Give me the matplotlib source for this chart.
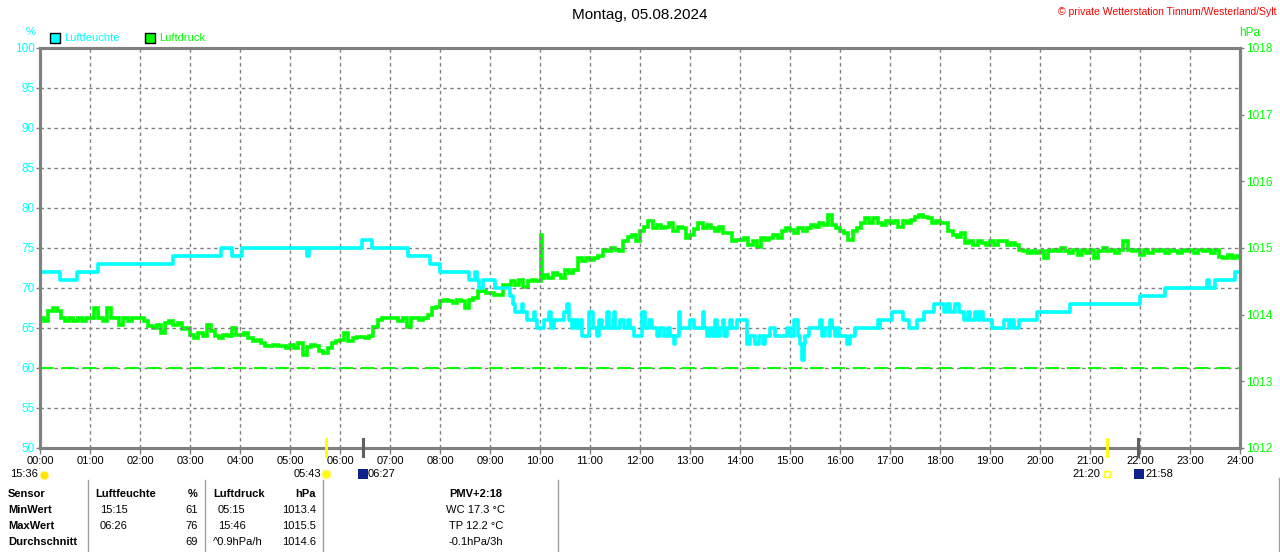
import matplotlib
matplotlib.use("Agg")
import matplotlib.pyplot as plt
import numpy as np
from matplotlib.lines import Line2D
from matplotlib.patches import Rectangle

plt.rcParams['font.family'] = ['Liberation Sans', 'DejaVu Sans']

W, H = 1280, 552
CYAN = '#00FFFF'
GREEN = '#00FF00'
GRAU = '#808080'

# Luftfeuchte: Stufen (Stunde, %)
feuchte_t = [0.00, 0.40, 0.73, 1.15, 2.65, 3.61, 3.83, 4.03, 5.33, 5.37, 6.43, 6.63,
             7.35, 7.80, 8.00, 8.57, 8.70, 8.73, 8.77, 8.87, 9.10, 9.40, 9.45, 9.50,
             9.64, 9.66, 9.73, 9.88, 9.90, 9.93, 10.07, 10.17, 10.22, 10.27, 10.47, 10.53,
             10.57, 10.63, 10.68, 10.73, 10.78, 10.83, 10.97, 11.05, 11.13, 11.17, 11.23, 11.33,
             11.37, 11.45, 11.47, 11.50, 11.60, 11.67, 11.75, 11.80, 11.87, 12.03, 12.10, 12.17,
             12.23, 12.33, 12.40, 12.47, 12.55, 12.60, 12.67, 12.70, 12.77, 12.80, 13.00, 13.07,
             13.25, 13.28, 13.33, 13.40, 13.45, 13.50, 13.53, 13.60, 13.65, 13.68, 13.73, 13.80,
             13.83, 13.93, 14.13, 14.20, 14.30, 14.37, 14.45, 14.50, 14.60, 14.70, 14.93, 15.00,
             15.07, 15.15, 15.20, 15.23, 15.27, 15.30, 15.37, 15.60, 15.63, 15.70, 15.77, 15.80,
             15.83, 15.90, 15.93, 15.97, 16.13, 16.20, 16.30, 16.75, 16.77, 16.80, 17.03, 17.25,
             17.37, 17.53, 17.67, 17.87, 18.07, 18.13, 18.20, 18.30, 18.37, 18.47, 18.55, 18.60,
             18.70, 18.75, 18.80, 18.85, 19.03, 19.28, 19.37, 19.42, 19.47, 19.57, 19.93, 20.60,
             22.00, 22.50, 23.33, 23.37, 23.50, 23.90, 24.00]
feuchte_pct = [72, 71, 72, 73, 74, 75, 74, 75, 74, 75, 76, 75,
               74, 73, 72, 71, 72, 71, 70, 71, 70, 69, 68, 67,
               68, 67, 66, 67, 66, 65, 66, 67, 65, 66, 67, 68,
               66, 65, 66, 65, 66, 64, 67, 65, 64, 66, 65, 67,
               65, 66, 67, 65, 66, 65, 66, 65, 64, 67, 65, 66,
               65, 64, 65, 64, 65, 64, 63, 64, 67, 65, 66, 65,
               67, 65, 64, 65, 64, 66, 64, 65, 66, 64, 65, 66,
               65, 66, 63, 64, 63, 64, 63, 64, 65, 64, 65, 64,
               66, 64, 63, 61, 63, 64, 65, 66, 64, 65, 64, 66,
               65, 64, 65, 64, 63, 64, 65, 66, 65, 66, 67, 66,
               65, 66, 67, 68, 67, 68, 67, 68, 67, 66, 67, 66,
               67, 66, 67, 66, 65, 66, 65, 66, 65, 66, 67, 68,
               69, 70, 71, 70, 71, 72, 72]

# Luftdruck alle 5 Minuten, eine Zeile je Stunde (hPa)
druck_hpa = [
    1013.95, 1013.9, 1014.05, 1014.1, 1014.05, 1013.95, 1013.9, 1013.95, 1013.9, 1013.95, 1013.9, 1013.95,
    1013.95, 1014.1, 1013.95, 1013.9, 1014.1, 1013.95, 1013.95, 1013.85, 1013.95, 1013.9, 1013.95, 1013.95,
    1013.95, 1013.9, 1013.83, 1013.8, 1013.85, 1013.72, 1013.88, 1013.9, 1013.85, 1013.88, 1013.78, 1013.8,
    1013.7, 1013.65, 1013.72, 1013.68, 1013.85, 1013.75, 1013.68, 1013.65, 1013.7, 1013.68, 1013.8, 1013.7,
    1013.7, 1013.72, 1013.65, 1013.6, 1013.62, 1013.58, 1013.53, 1013.53, 1013.55, 1013.53, 1013.53, 1013.5,
    1013.55, 1013.5, 1013.58, 1013.4, 1013.52, 1013.55, 1013.53, 1013.45, 1013.42, 1013.5, 1013.58, 1013.6,
    1013.62, 1013.72, 1013.6, 1013.65, 1013.67, 1013.67, 1013.65, 1013.68, 1013.82, 1013.92, 1013.95, 1013.95,
    1013.95, 1013.95, 1013.9, 1013.95, 1013.82, 1013.95, 1013.95, 1013.92, 1013.95, 1014.0, 1014.1, 1014.12,
    1014.2, 1014.22, 1014.2, 1014.18, 1014.22, 1014.2, 1014.1, 1014.22, 1014.25, 1014.35, 1014.35, 1014.32,
    1014.32, 1014.3, 1014.3, 1014.45, 1014.45, 1014.5, 1014.45, 1014.52, 1014.42, 1014.5, 1014.52, 1014.5,
    1014.5, 1014.6, 1014.55, 1014.62, 1014.6, 1014.55, 1014.67, 1014.62, 1014.67, 1014.85, 1014.8, 1014.85,
    1014.82, 1014.85, 1014.88, 1014.97, 1014.95, 1015.0, 1014.97, 1014.95, 1015.1, 1015.17, 1015.2, 1015.1,
    1015.25, 1015.32, 1015.4, 1015.3, 1015.35, 1015.3, 1015.32, 1015.38, 1015.25, 1015.32, 1015.3, 1015.15,
    1015.2, 1015.28, 1015.38, 1015.3, 1015.35, 1015.3, 1015.25, 1015.32, 1015.22, 1015.22, 1015.1, 1015.12,
    1015.12, 1015.15, 1015.05, 1015.1, 1015.02, 1015.15, 1015.12, 1015.15, 1015.2, 1015.15, 1015.25, 1015.3,
    1015.27, 1015.22, 1015.3, 1015.25, 1015.3, 1015.35, 1015.32, 1015.38, 1015.35, 1015.5, 1015.35, 1015.3,
    1015.25, 1015.22, 1015.12, 1015.25, 1015.3, 1015.38, 1015.45, 1015.38, 1015.45, 1015.38, 1015.35, 1015.4,
    1015.38, 1015.4, 1015.32, 1015.4, 1015.38, 1015.42, 1015.47, 1015.5, 1015.47, 1015.45, 1015.38, 1015.4,
    1015.37, 1015.38, 1015.25, 1015.2, 1015.17, 1015.22, 1015.07, 1015.1, 1015.05, 1015.1, 1015.07, 1015.05,
    1015.1, 1015.05, 1015.1, 1015.1, 1015.05, 1015.07, 1015.05, 1014.97, 1014.95, 1014.92, 1014.95, 1014.93,
    1014.95, 1014.85, 1014.95, 1014.97, 1014.95, 1015.0, 1014.95, 1014.92, 1014.97, 1014.9, 1014.97, 1014.92,
    1014.97, 1014.85, 1014.95, 1015.0, 1014.95, 1014.97, 1014.92, 1014.97, 1015.1, 1014.97, 1014.95, 1014.97,
    1014.9, 1014.97, 1014.92, 1014.97, 1014.95, 1014.97, 1014.92, 1014.97, 1014.95, 1014.92, 1014.97, 1014.95,
    1014.97, 1014.92, 1014.97, 1014.95, 1014.97, 1014.93, 1014.97, 1014.87, 1014.85, 1014.9, 1014.85, 1014.88,
    1014.85]
# kurze Spitze um 10:00
spitze_t = [10.01, 10.03]
spitze_hpa = [1015.2, 1014.55]

stunden_labels = ["%02d:00" % h for h in range(25)]
feuchte_ticks = list(range(50, 101, 5))
druck_ticks = list(range(1012, 1019))

# Sonne / Mond
sonne_auf, mond_auf, sonne_unter, mond_unter = 5 + 43/60, 6 + 27/60, 21 + 20/60, 21 + 58/60

tabelle_kopf = ["Sensor", "Luftfeuchte", "%", "Luftdruck", "hPa"]
tabelle_zeilen = ["MinWert", "MaxWert", "Durchschnitt"]
feuchte_zeit = ["15:15", "06:26", ""]
feuchte_wert = ["61", "76", "69"]
druck_zeit = ["05:15", "15:46", "^0.9hPa/h"]
druck_wert = ["1013.4", "1015.5", "1014.6"]
pmv_kopf = "PMV+2:18"
pmv_zeilen = ["WC 17.3 °C", "TP 12.2 °C", "-0.1hPa/3h"]


def fx(x):
    return x / W


def fy(y):
    return 1 - y / H


fig = plt.figure(figsize=(12.8, 5.52), dpi=100)
ax = fig.add_axes([fx(40), fy(448), 1200 / W, 400 / H])
ax2 = ax.twinx()
ax.set_zorder(ax2.get_zorder() + 1)
ax.patch.set_visible(False)

# Druck
t_druck = np.arange(len(druck_hpa)) * 5 / 60
t_all = np.concatenate([t_druck, spitze_t])
p_all = np.concatenate([druck_hpa, spitze_hpa])
order = np.argsort(t_all)
ax2.plot(t_all[order], p_all[order], drawstyle='steps-post', color=GREEN, lw=2.6,
         solid_joinstyle='miter')

# Feuchte
ax.plot(feuchte_t, feuchte_pct, drawstyle='steps-post', color=CYAN, lw=2.6)
ax.axhline(60, color=GREEN, lw=1.4, dashes=(7, 4))

ax.set_xlim(0, 24)
ax.set_ylim(50, 100)
ax2.set_ylim(1012, 1018)
ax.set_xticks(range(25))
ax.set_xticklabels(stunden_labels, fontsize=8)
ax.set_yticks(feuchte_ticks)
ax.set_yticklabels([str(v) for v in feuchte_ticks], fontsize=8.5, color=CYAN)
ax2.set_yticks(druck_ticks)
ax2.set_yticklabels([str(v) for v in druck_ticks], fontsize=8.5, color=GREEN)

ax.grid(True, color=GRAU, lw=1, dashes=(2.5, 2.5))
for a in (ax, ax2):
    for s in a.spines.values():
        s.set_color(GRAU)
        s.set_linewidth(2.2)
ax.tick_params(axis='x', colors=GRAU, labelcolor='black', length=4, width=1, pad=2)
ax.tick_params(axis='y', colors=GRAU, labelcolor=CYAN, length=3, width=1, pad=1)
ax2.tick_params(axis='y', colors=GRAU, labelcolor=GREEN, length=3, width=1, pad=1)

# Marken fuer Sonne und Mond an der x-Achse
xt = ax.get_xaxis_transform()
for t, c, lw in [(sonne_auf, '#FFFF00', 2), (mond_auf, '#606060', 2.2),
                 (sonne_unter, '#FFFF00', 2), (mond_unter, '#606060', 2.2)]:
    ax.plot([t, t], [-0.02, 0.022], transform=xt, color=c, lw=lw, clip_on=False, zorder=5)

# Titel und Beschriftungen
fig.text(0.5, fy(15), "Montag, 05.08.2024", ha='center', va='center', fontsize=11)
fig.text(fx(1276), fy(12), "© private Wetterstation Tinnum/Westerland/Sylt", ha='right',
         va='center', fontsize=7.5, color='#FF0000')
fig.text(fx(31), fy(32), "%", ha='center', va='center', fontsize=8, color=CYAN)
fig.text(fx(1250), fy(33), "hPa", ha='center', va='center', fontsize=8.5, color=GREEN)

fig.add_artist(Rectangle((fx(50), fy(43)), 10 / W, 10 / H, transform=fig.transFigure,
                         facecolor=CYAN, edgecolor='black', lw=1))
fig.text(fx(64), fy(38), "Luftfeuchte", ha='left', va='center', fontsize=8, color=CYAN)
fig.add_artist(Rectangle((fx(145), fy(43)), 10 / W, 10 / H, transform=fig.transFigure,
                         facecolor=GREEN, edgecolor='black', lw=1))
fig.text(fx(159), fy(38), "Luftdruck", ha='left', va='center', fontsize=8, color=GREEN)

# Zeile mit Sonnen-/Mondzeiten
fig.text(fx(10), fy(474), "15:36", ha='left', va='center', fontsize=8)
fig.add_artist(Line2D([fx(44)], [fy(475)], marker='o', ms=5, color='#FFE800',
                      transform=fig.transFigure))
fig.text(fx(321), fy(474), "05:43", ha='right', va='center', fontsize=8)
fig.add_artist(Line2D([fx(326)], [fy(474)], marker='o', ms=6, color='#FFFF00',
                      markeredgecolor='#FFF080', transform=fig.transFigure))
fig.add_artist(Rectangle((fx(358), fy(479)), 10 / W, 10 / H, transform=fig.transFigure,
                         facecolor='#10208A', edgecolor='none'))
fig.text(fx(368), fy(474), "06:27", ha='left', va='center', fontsize=8)
fig.text(fx(1100), fy(474), "21:20", ha='right', va='center', fontsize=8)
fig.add_artist(Rectangle((fx(1104), fy(477)), 6 / W, 6 / H, transform=fig.transFigure,
                         facecolor='white', edgecolor='#FFFF00', lw=1))
fig.add_artist(Rectangle((fx(1134), fy(479)), 10 / W, 10 / H, transform=fig.transFigure,
                         facecolor='#10208A', edgecolor='none'))
fig.text(fx(1145), fy(474), "21:58", ha='left', va='center', fontsize=8)

# Tabelle
for x in (88, 205, 323, 558):
    fig.add_artist(Line2D([fx(x), fx(x)], [fy(480), fy(552)], color='#A0A0A0', lw=1,
                          transform=fig.transFigure))
fig.add_artist(Line2D([fx(1279), fx(1279)], [fy(478), fy(552)], color='#A0A0A0', lw=1,
                      transform=fig.transFigure))

zeilen_y = [494, 510, 526, 542]
kopf_pos = [(8, 'left'), (95, 'left'), (198, 'right'), (213, 'left'), (316, 'right')]
for (x, ha), txt in zip(kopf_pos, tabelle_kopf):
    fig.text(fx(x), fy(zeilen_y[0]), txt, ha=ha, va='center', fontsize=8, fontweight='bold')
fig.text(fx(476), fy(zeilen_y[0]), pmv_kopf, ha='center', va='center', fontsize=8,
         fontweight='bold')
for i, name in enumerate(tabelle_zeilen):
    y = fy(zeilen_y[i + 1])
    fig.text(fx(8), y, name, ha='left', va='center', fontsize=8, fontweight='bold')
    fig.text(fx(100), y, feuchte_zeit[i], ha='left', va='center', fontsize=8)
    fig.text(fx(198), y, feuchte_wert[i], ha='right', va='center', fontsize=8)
    fig.text(fx(218) if i < 2 else fx(213), y, druck_zeit[i], ha='left', va='center', fontsize=8)
    fig.text(fx(316), y, druck_wert[i], ha='right', va='center', fontsize=8)
    fig.text(fx(476), y, pmv_zeilen[i], ha='center', va='center', fontsize=8)

fig.savefig("out.png", dpi=100, facecolor='white')
